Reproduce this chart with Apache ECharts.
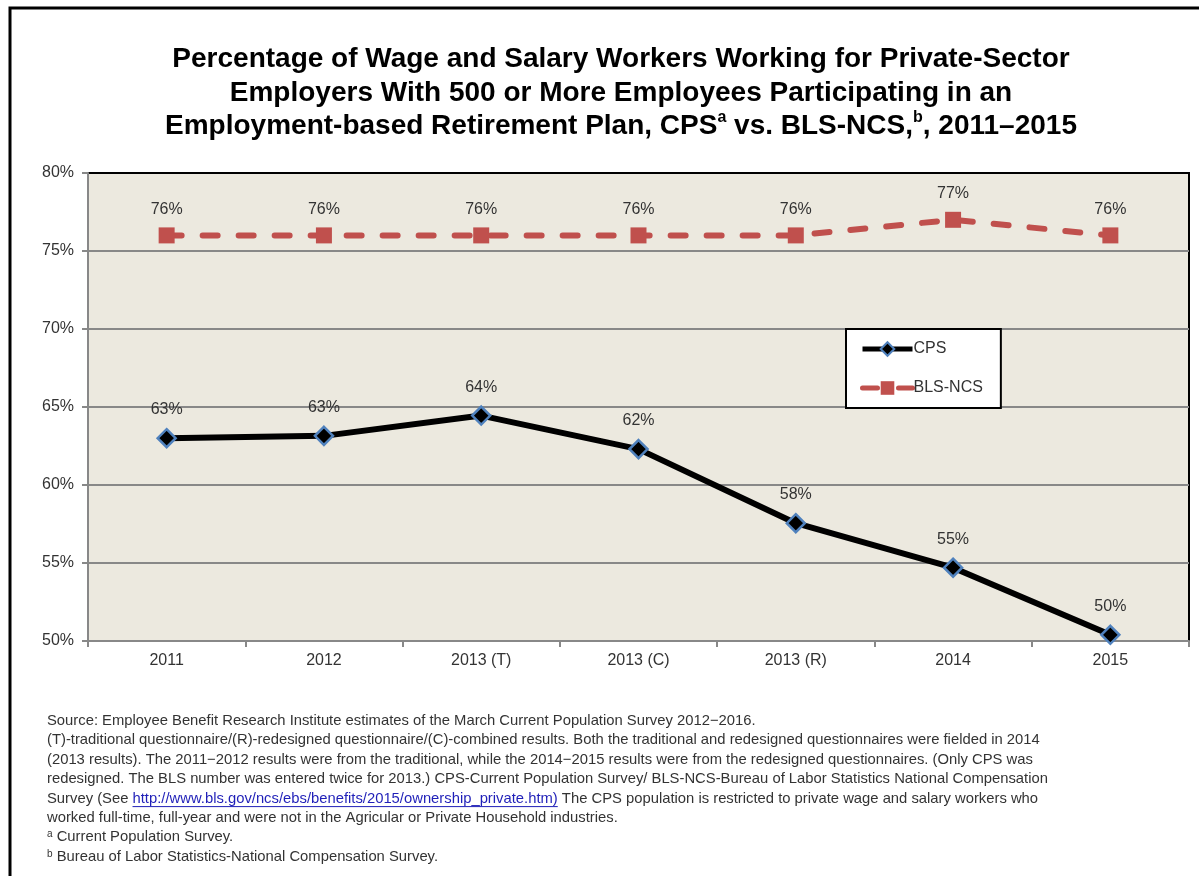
<!DOCTYPE html>
<html lang="en">
<head>
    <meta charset="UTF-8">
    <title>CPS vs. BLS-NCS</title>
    <script src="https://cdn.jsdelivr.net/npm/echarts@6/dist/echarts.min.js"></script>
    <style>
        html, body { margin: 0; padding: 0; background: #fff; }
        #chart { width: 1199px; height: 876px; }
    </style>
</head>
<body>
<div id="chart"></div>
<script>
    var categories = ['2011', '2012', '2013 (T)', '2013 (C)', '2013 (R)', '2014', '2015'];
    var cpsValues = [63.0, 63.15, 64.45, 62.3, 57.55, 54.7, 50.4];
    var blsValues = [76, 76, 76, 76, 76, 77, 76];
    var yMin = 50, yMax = 80, yStep = 5;

    var notes = [
        'Source: Employee Benefit Research Institute estimates of the March Current Population Survey 2012\u22122016.',
        '(T)-traditional questionnaire/(R)-redesigned questionnaire/(C)-combined results. Both the traditional and redesigned questionnaires were fielded in 2014',
        '(2013 results). The 2011\u22122012 results were from the traditional, while the 2014\u22122015 results were from the redesigned questionnaires. (Only CPS was',
        'redesigned. The BLS number was entered twice for 2013.) CPS-Current Population Survey/ BLS-NCS-Bureau of Labor Statistics National Compensation',
        '{t|Survey (See }{link|http://www.bls.gov/ncs/ebs/benefits/2015/ownership_private.htm)}{t| The CPS population is restricted to private wage and salary workers who}',
        'worked full-time, full-year and were not in the Agricular or Private Household industries.',
        '{sup|a}{t| Current Population Survey.}',
        '{sup|b}{t| Bureau of Labor Statistics-National Compensation Survey.}'
    ];

    var noteFont = '14.8px "Liberation Sans", Arial, sans-serif';
    var noteX = 47, noteY0 = 721, noteStep = 19.4;

    // measure the link so it can get an underline
    var ctx = document.createElement('canvas').getContext('2d');
    ctx.font = noteFont;
    var linkStart = noteX + ctx.measureText('Survey (See ').width;
    var linkEnd = linkStart + ctx.measureText('http://www.bls.gov/ncs/ebs/benefits/2015/ownership_private.htm)').width;

    var graphics = [{
        type: 'rect',
        shape: { x: 10, y: 8, width: 1200, height: 900 },
        style: { fill: null, stroke: '#000', lineWidth: 3 },
        silent: true
    }];
    notes.forEach(function (line, i) {
        graphics.push({
            type: 'text',
            x: noteX,
            y: noteY0 + i * noteStep,
            style: {
                text: line,
                font: noteFont,
                fill: '#333',
                verticalAlign: 'middle',
                rich: {
                    t: { font: noteFont, fill: '#333' },
                    link: { font: noteFont, fill: '#1f1fb8' },
                    sup: { fontSize: 10, fontFamily: 'Liberation Sans', fill: '#333', verticalAlign: 'top', padding: [0, 0, 6, 0] }
                }
            },
            silent: true
        });
    });
    graphics.push({
        type: 'line',
        shape: { x1: linkStart, y1: noteY0 + 4 * noteStep + 8, x2: linkEnd, y2: noteY0 + 4 * noteStep + 8 },
        style: { stroke: '#1f1fb8', lineWidth: 1 },
        silent: true
    });

    var labelStyle = {
        show: true,
        position: 'top',
        distance: 10,
        color: '#333',
        fontSize: 16,
        fontFamily: 'Liberation Sans',
        formatter: function (p) { return Math.round(p.value) + '%'; }
    };

    var option = {
        backgroundColor: '#fff',
        animation: false,
        title: {
            text: 'Percentage of Wage and Salary Workers Working for Private-Sector\nEmployers With 500 or More Employees Participating in an\nEmployment-based Retirement Plan, CPS{sup|a} vs. BLS-NCS,{sup|b}, 2011\u20132015',
            left: 616,
            top: 38,
            textAlign: 'center',
            textStyle: {
                fontFamily: 'Liberation Sans',
                fontSize: 28,
                fontWeight: 'bold',
                color: '#000',
                lineHeight: 33.5,
                rich: {
                    sup: { fontSize: 16, fontWeight: 'bold', fontFamily: 'Liberation Sans', color: '#000', verticalAlign: 'top', lineHeight: 33.5, padding: [0, 0, 14, 0] }
                }
            }
        },
        legend: {
            orient: 'vertical',
            left: 846,
            top: 329,
            padding: [12, 18, 12, 14],
            itemGap: 23,
            itemWidth: 50,
            itemHeight: 17,
            backgroundColor: '#fff',
            borderColor: '#000',
            borderWidth: 2,
            borderRadius: 0,
            lineStyle: { width: 5 },
            textStyle: { color: '#333', fontSize: 16, fontFamily: 'Liberation Sans', padding: [0, 0, 0, -4] },
            data: ['CPS', 'BLS-NCS']
        },
        grid: {
            left: 88,
            right: 10,
            top: 173,
            bottom: 235,
            show: true,
            backgroundColor: '#ECE9DF',
            borderColor: '#000',
            borderWidth: 2
        },
        xAxis: {
            type: 'category',
            data: categories,
            boundaryGap: true,
            axisLine: { lineStyle: { color: '#888', width: 2 } },
            axisTick: { show: true, length: 6, lineStyle: { color: '#888', width: 2 } },
            axisLabel: { color: '#333', fontSize: 16, fontFamily: 'Liberation Sans', margin: 12 }
        },
        yAxis: {
            type: 'value',
            min: yMin,
            max: yMax,
            interval: yStep,
            axisLine: { show: true, lineStyle: { color: '#888', width: 2 } },
            axisTick: { show: true, length: 6, lineStyle: { color: '#888', width: 2 } },
            splitLine: { show: true, showMaxLine: false, lineStyle: { color: '#888', width: 2 } },
            axisLabel: { color: '#333', fontSize: 16, fontFamily: 'Liberation Sans', margin: 14, formatter: '{value}%' }
        },
        series: [{
            name: 'CPS',
            type: 'line',
            data: cpsValues,
            symbol: 'diamond',
            symbolSize: 18,
            z: 3,
            lineStyle: { color: '#000', width: 6 },
            itemStyle: { color: '#000', borderColor: '#4F81BD', borderWidth: 2.5 },
            label: labelStyle
        }, {
            name: 'BLS-NCS',
            type: 'line',
            data: blsValues,
            symbol: 'rect',
            symbolSize: 16,
            z: 2,
            lineStyle: { color: '#C0504D', width: 6, type: [15, 21], cap: 'round' },
            itemStyle: { color: '#C0504D' },
            label: labelStyle
        }],
        graphic: graphics
    };

    var chart = echarts.init(document.getElementById('chart'));
    chart.setOption(option);
</script>
</body>
</html>
